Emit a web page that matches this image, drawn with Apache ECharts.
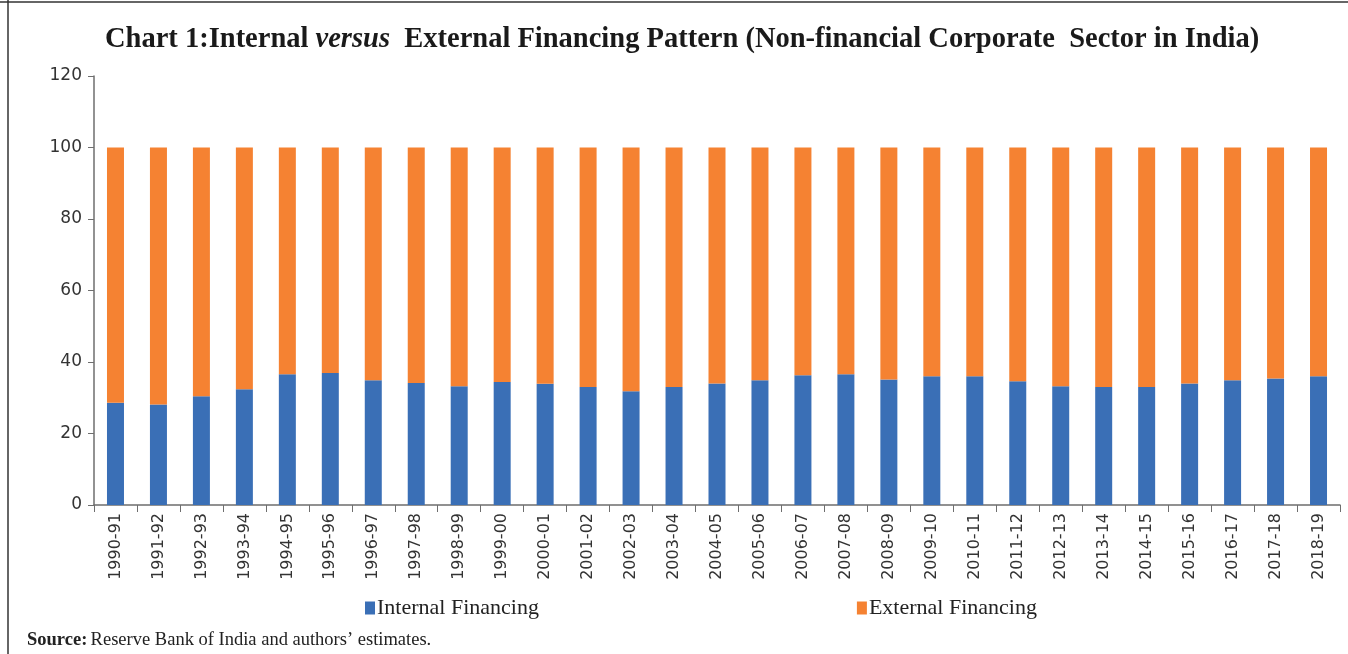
<!DOCTYPE html>
<html style="height: 100%">
<head>
  <meta charset="utf-8">
</head>
<body style="height: 100%; margin: 0; background: #fff">
<div id="chartContainer" style="width: 1348px; height: 654px"></div>
<script src="https://cdn.jsdelivr.net/npm/echarts@6/dist/echarts.min.js"></script>
<script>
  // data
  var years = ['1990-91', '1991-92', '1992-93', '1993-94', '1994-95', '1995-96', '1996-97', '1997-98',
    '1998-99', '1999-00', '2000-01', '2001-02', '2002-03', '2003-04', '2004-05', '2005-06', '2006-07',
    '2007-08', '2008-09', '2009-10', '2010-11', '2011-12', '2012-13', '2013-14', '2014-15', '2015-16',
    '2016-17', '2017-18', '2018-19'];
  var internalFinancing = [28.6, 28.1, 30.4, 32.4, 36.6, 36.9, 34.9, 34.1, 33.2, 34.4, 33.9, 33.0, 31.8,
    33.0, 34.0, 34.9, 36.3, 36.6, 35.1, 36.0, 36.0, 34.6, 33.2, 33.0, 33.0, 34.0, 34.9, 35.4, 36.0];
  var externalFinancing = [71.4, 71.9, 69.6, 67.6, 63.4, 63.1, 65.1, 65.9, 66.8, 65.6, 66.1, 67.0, 68.2,
    67.0, 66.0, 65.1, 63.7, 63.4, 64.9, 64.0, 64.0, 65.4, 66.8, 67.0, 67.0, 66.0, 65.1, 64.6, 64.0];
  var yTicks = [0, 20, 40, 60, 80, 100, 120];

  var blue = '#3a6fb6';
  var orange = '#f58232';
  var serif = '"Liberation Serif", "DejaVu Serif", serif';

  var myChart = echarts.init(document.getElementById('chartContainer'));

  var option = {
    backgroundColor: '#fff',
    animation: false,
    title: {
      text: '{b|Chart 1:Internal }{i|versus}{b|  External Financing Pattern (Non-financial Corporate  Sector in India)}',
      left: 100,
      top: 20,
      textStyle: {
        rich: {
          b: {fontFamily: serif, fontWeight: 'bold', fontSize: 28.5, color: '#1a1a1a'},
          i: {fontFamily: serif, fontWeight: 'bold', fontStyle: 'italic', fontSize: 28.5, color: '#1a1a1a'}
        }
      }
    },
    legend: {
      top: 592,
      left: 360,
      itemGap: 318,
      itemWidth: 10,
      itemHeight: 13,
      icon: 'rect',
      textStyle: {fontFamily: serif, fontSize: 22, color: '#222', padding: [0, 0, 0, -3]},
      data: ['Internal Financing', 'External Financing']
    },
    grid: {
      left: 94,
      right: 8,
      top: 76,
      bottom: 149
    },
    xAxis: {
      type: 'category',
      data: years,
      axisLine: {lineStyle: {color: '#6e6e6e', width: 1.5}},
      axisTick: {show: true, length: 7, lineStyle: {color: '#6e6e6e'}},
      axisLabel: {
        rotate: 90,
        interval: 0,
        margin: 8,
        fontFamily: '"DejaVu Sans", sans-serif',
        fontSize: 16,
        color: '#333'
      }
    },
    yAxis: {
      type: 'value',
      min: yTicks[0],
      max: yTicks[yTicks.length - 1],
      interval: 20,
      splitLine: {show: false},
      axisLine: {show: true, lineStyle: {color: '#6e6e6e', width: 1.5}},
      axisTick: {show: true, length: 6, lineStyle: {color: '#6e6e6e'}},
      axisLabel: {
        margin: 12,
        fontFamily: '"DejaVu Sans", sans-serif',
        fontSize: 17,
        color: '#333'
      }
    },
    series: [{
      name: 'Internal Financing',
      type: 'bar',
      stack: 'total',
      barWidth: 17,
      itemStyle: {color: blue},
      data: internalFinancing
    }, {
      name: 'External Financing',
      type: 'bar',
      stack: 'total',
      barWidth: 17,
      itemStyle: {color: orange},
      data: externalFinancing
    }],
    graphic: [{
      type: 'line',
      shape: {x1: 0, y1: 2, x2: 1348, y2: 2},
      style: {stroke: '#333', lineWidth: 1.5}
    }, {
      type: 'line',
      shape: {x1: 8, y1: 0, x2: 8, y2: 654},
      style: {stroke: '#333', lineWidth: 1.5}
    }, {
      type: 'text',
      left: 27,
      top: 631,
      style: {
        text: '{b|Source:} {n|Reserve Bank of India and authors\u2019 estimates.}',
        rich: {
          b: {fontFamily: serif, fontWeight: 'bold', fontSize: 18.5, fill: '#222'},
          n: {fontFamily: serif, fontSize: 18.5, fill: '#222'}
        }
      }
    }]
  };

  myChart.setOption(option, true);
</script>
</body>
</html>
